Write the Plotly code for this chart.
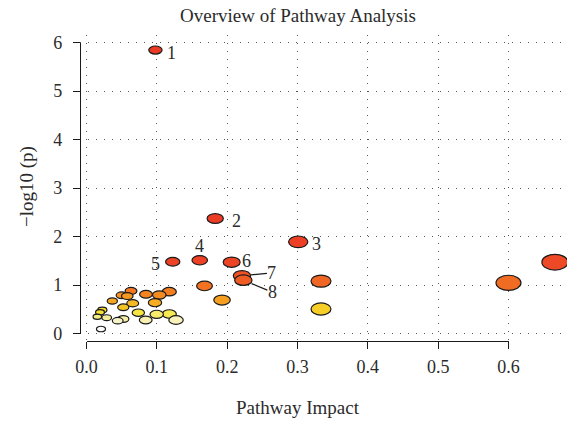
import numpy as np
import plotly.graph_objects as go
from plotly.colors import sample_colorscale

# ---------------- data ----------------
impact = [0.098, 0.183, 0.301, 0.161, 0.1226, 0.2064, 0.221, 0.223, 0.666,
          0.3334, 0.600, 0.1678, 0.0633, 0.1177, 0.0846, 0.1035, 0.050, 0.058,
          0.1927, 0.0367, 0.0974, 0.0657, 0.0523, 0.3334, 0.0225, 0.0192,
          0.0737, 0.1177, 0.0998, 0.0154, 0.0287, 0.0523, 0.0842, 0.1273,
          0.0444, 0.0206]
neglogp = [5.845, 2.37, 1.89, 1.51, 1.48, 1.47, 1.19, 1.10, 1.47,
           1.08, 1.045, 0.98, 0.876, 0.862, 0.808, 0.794, 0.788, 0.773,
           0.69, 0.67, 0.635, 0.623, 0.54, 0.505, 0.485, 0.437,
           0.429, 0.402, 0.396, 0.346, 0.326, 0.299, 0.278, 0.278,
           0.264, 0.093]
point_labels = ["1", "2", "3", "4", "5", "6", "7", "8"]
x_ticks = [0.0, 0.1, 0.2, 0.3, 0.4, 0.5, 0.6]
x_ticktext = ["0.0", "0.1", "0.2", "0.3", "0.4", "0.5", "0.6"]
y_ticks = [0, 1, 2, 3, 4, 5, 6]

# ---------------- layout geometry (pixels) ----------------
W, H = 567, 421
L, R, T, B = 80, 567, 35, 341          # plot region edges
X0PX, X6PX = 86.5, 508.5               # pixel of x=0 and x=0.6
Y0PX, Y6PX = 333.5, 42.5               # pixel of y=0 and y=6
sx = (X6PX - X0PX) / 0.6
sy = (Y0PX - Y6PX) / 6.0
xrange_main = [(L - X0PX) / sx, (R - X0PX) / sx]
yrange_main = [(Y0PX - B) / sy, (Y0PX - T) / sy]
pw, ph = R - L, B - T

FONT = "Liberation Serif"
TXT = "#2b2b2b"

# colours by rank of significance (heat-like)
heat = [[0.0, "#EC3B24"], [0.16, "#EE4526"], [0.25, "#F06424"], [0.40, "#F4841F"],
        [0.56, "#F6A920"], [0.70, "#F7DF2A"], [0.76, "#F7E84A"], [0.86, "#F6EE9E"],
        [0.97, "#F8F3C6"], [1.0, "#FFFFFF"]]
n = len(neglogp)
order = np.argsort(-np.array(neglogp), kind="stable")
rank = np.empty(n)
rank[order] = np.arange(n)
cols = sample_colorscale(heat, list(rank / (n - 1)))

# ellipse sizes from impact
wpx = [5.4 + 25.3 * np.sqrt(v) for v in impact]
hpx = [w / 1.65 for w in wpx]

fig = go.Figure()
fig.add_trace(go.Scatter(x=impact, y=neglogp, mode="markers",
                         marker=dict(size=10, opacity=0), hoverinfo="x+y",
                         showlegend=False))
fig.add_trace(go.Scatter(x=[None], y=[None], xaxis="x2", yaxis="y2",
                         showlegend=False, hoverinfo="skip"))

shapes = []
for i in sorted(range(n), key=lambda k: -neglogp[k]):
    dx = wpx[i] / 2 / sx
    dy = hpx[i] / 2 / sy
    shapes.append(dict(type="circle", xref="x", yref="y",
                       x0=impact[i] - dx, x1=impact[i] + dx,
                       y0=neglogp[i] - dy, y1=neglogp[i] + dy,
                       fillcolor=cols[i], line=dict(color="#1a1a1a", width=1.2),
                       layer="above"))

# label placement (pixel offsets)
label_place = {"1": (16, -3), "2": (21, -2), "3": (18, -2), "4": (0, 14),
               "5": (-17, -2), "6": (15, 1)}
arrow_place = {"7": (30, -3), "8": (29, 12)}
ann = []
for k, lab in enumerate(point_labels):
    if lab in label_place:
        dx, dy = label_place[lab]
        ann.append(dict(x=impact[k], y=neglogp[k], xref="x", yref="y", text=lab,
                        showarrow=False, xshift=dx, yshift=dy,
                        font=dict(family=FONT, size=18, color=TXT)))
    else:
        ax, ay = arrow_place[lab]
        ann.append(dict(x=impact[k], y=neglogp[k], xref="x", yref="y", text=lab,
                        showarrow=True, arrowhead=0, arrowwidth=1.2, arrowcolor="#1a1a1a",
                        ax=ax, ay=ay, standoff=9, borderpad=0,
                        font=dict(family=FONT, size=18, color=TXT)))

ann.append(dict(text="Pathway Impact", xref="paper", yref="paper",
                x=(297.5 - L) / pw, y=(B - 407) / ph, xanchor="center", yanchor="middle",
                showarrow=False, font=dict(family=FONT, size=19, color=TXT)))
ann.append(dict(text="\u2212log10 (p)", xref="paper", yref="paper",
                x=(27 - L) / pw, y=(B - 187) / ph, xanchor="center", yanchor="middle",
                textangle=-90, showarrow=False, font=dict(family=FONT, size=19, color=TXT)))

fig.update_layout(
    width=W, height=H,
    margin=dict(l=L, r=W - R, t=T, b=H - B, pad=0, autoexpand=False),
    paper_bgcolor="white", plot_bgcolor="rgba(0,0,0,0)",
    title=dict(text="Overview of Pathway Analysis", x=298 / W, y=1 - 15 / H,
               xref="container", yref="container", xanchor="center", yanchor="middle",
               font=dict(family=FONT, size=19, color=TXT)),
    xaxis=dict(domain=[0, 1], range=xrange_main, showline=False, showticklabels=False,
               automargin=False, fixedrange=True,
               ticks="", zeroline=False, showgrid=True, tickvals=x_ticks,
               gridcolor="#555", gridwidth=1, griddash="1px,7px"),
    yaxis=dict(domain=[0, 1], range=yrange_main, showline=False, showticklabels=False,
               automargin=False, fixedrange=True,
               ticks="", zeroline=False, showgrid=True, tickvals=y_ticks,
               gridcolor="#555", gridwidth=1, griddash="1px,7px"),
    xaxis2=dict(domain=[(X0PX - L) / pw, (X6PX - L) / pw], range=[0, 0.6],
                anchor="free", position=0, automargin=False, fixedrange=True,
                showline=True, linecolor="#1a1a1a", linewidth=1.3,
                ticks="outside", ticklen=7, tickwidth=1.3, tickcolor="#1a1a1a",
                tickvals=x_ticks, ticktext=x_ticktext, showgrid=False, zeroline=False,
                ticklabelstandoff=2,
                tickfont=dict(family=FONT, size=18, color=TXT)),
    yaxis2=dict(domain=[(B - Y0PX) / ph, (B - Y6PX) / ph], range=[0, 6],
                anchor="free", position=0, automargin=False, fixedrange=True,
                showline=True, linecolor="#1a1a1a", linewidth=1.3,
                ticks="outside", ticklen=7, tickwidth=1.3, tickcolor="#1a1a1a",
                tickvals=y_ticks, showgrid=False, zeroline=False,
                ticklabelstandoff=7,
                tickfont=dict(family=FONT, size=18, color=TXT)),
    shapes=shapes, annotations=ann, showlegend=False,
)

fig.write_html("out.html", config=dict(displayModeBar=False),
               post_script="document.body.style.margin='0px';document.body.style.padding='0px';")
